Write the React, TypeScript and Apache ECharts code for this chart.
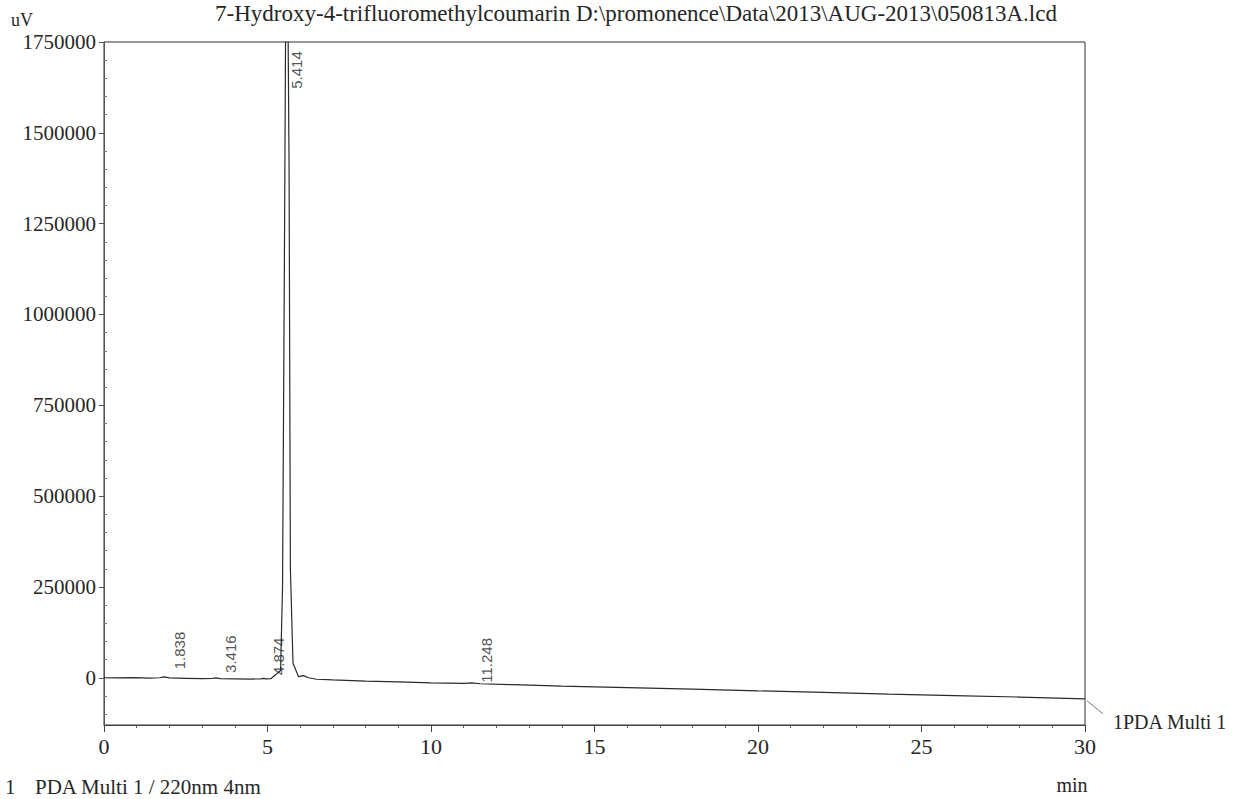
import React, { useEffect, useRef } from "react";
import * as echarts from "echarts";

// ---- Data ----
const titleText =
  "7-Hydroxy-4-trifluoromethylcoumarin D:\\promonence\\Data\\2013\\AUG-2013\\050813A.lcd";

// retention time (min) and detector signal (uV)
const traceTimes = [
  0, 0.4, 0.9, 1.4, 1.7, 1.84, 2.0, 2.5, 3.0, 3.3, 3.42, 3.55, 4.0, 4.5, 4.8, 4.87,
  4.95, 5.1, 5.4, 5.46, 5.52, 5.56, 5.62, 5.66, 5.7, 5.78, 5.95, 6.1, 6.25, 6.5,
  7, 8, 9, 10, 11, 11.25, 11.5, 12.5, 14, 16, 18, 20, 22, 24, 26, 28, 30,
];
const traceSignal = [
  0, -500, 500, -1000, 0, 2500, -500, -1500, -2500, -2000, -500, -2500, -3000, -3500,
  -3000, -1500, -3000, -2500, 20000, 250000, 1200000, 1900000, 1900000, 1400000,
  300000, 40000, 3000, 6000, 0, -4000, -6000, -9000, -11500, -14000, -15500,
  -14000, -16500, -19000, -23000, -27000, -31000, -36000, -40000, -45000, -49000,
  -53000, -58000,
];

// peak labels: retention time and the level where the label starts
const peakTimes = [1.838, 3.416, 4.874, 5.414, 11.248];
const peakLabelLevels = [22000, 12000, 6000, 1620000, -15000];

// axis ticks
const yMajorTicks = [0, 250000, 500000, 750000, 1000000, 1250000, 1500000, 1750000];
const yMinorTicks = [
  -100000, -50000, 50000, 100000, 150000, 200000, 300000, 350000, 400000, 450000,
  550000, 600000, 650000, 700000, 800000, 850000, 900000, 950000, 1050000, 1100000,
  1150000, 1200000, 1300000, 1350000, 1400000, 1450000, 1550000, 1600000, 1650000,
  1700000,
];

const seriesName = "1PDA Multi 1";
const footnoteIndex = "1";
const footnoteText = "PDA Multi 1 / 220nm 4nm";
const yUnit = "uV";
const xUnit = "min";

export default function App() {
  const ref = useRef<HTMLDivElement>(null);

  useEffect(() => {
    document.body.style.margin = "0";
    if (!ref.current) return;
    const chart = echarts.init(ref.current, undefined, { renderer: "svg" });
    const serif = "Liberation Serif";
    const ink = "#262626";

    const traceData = traceTimes.map((t, i) => [t, traceSignal[i]]);
    const labelData = peakTimes.map((t, i) => [t, peakLabelLevels[i]]);

    chart.setOption({
      animation: false,
      backgroundColor: "#ffffff",
      grid: {
        left: 104,
        right: 158,
        top: 42,
        bottom: 74,
        show: true,
        borderColor: "#333",
        borderWidth: 1,
        outerBoundsMode: "none",
      },
      xAxis: {
        type: "value",
        min: 0,
        max: 30,
        interval: 5,
        axisLine: { show: true, onZero: false, lineStyle: { color: "#444", width: 1 } },
        axisTick: { show: true, length: 7, lineStyle: { color: "#444" } },
        minorTick: { show: true, splitNumber: 5, length: 3, lineStyle: { color: "#555" } },
        axisLabel: { fontFamily: serif, fontSize: 22, color: ink, margin: 10 },
        splitLine: { show: false },
        minorSplitLine: { show: false },
      },
      yAxis: [
        {
          type: "value",
          position: "left",
          min: -130000,
          max: 1750000,
          axisLine: { show: true, onZero: false, lineStyle: { color: "#555", width: 1 } },
          axisTick: {
            show: true,
            customValues: yMajorTicks,
            length: 5,
            lineStyle: { color: "#555" },
          },
          axisLabel: {
            customValues: yMajorTicks,
            fontFamily: serif,
            fontSize: 21,
            color: ink,
            margin: 8,
            formatter: (v: number) => String(Math.round(v)),
          },
          splitLine: { show: false },
        },
        {
          type: "value",
          position: "left",
          min: -130000,
          max: 1750000,
          axisLine: { show: false, onZero: false },
          axisTick: {
            show: true,
            inside: true,
            customValues: yMinorTicks,
            length: 3,
            lineStyle: { color: "#777" },
          },
          axisLabel: { show: false },
          splitLine: { show: false },
        },
      ],
      series: [
        {
          name: seriesName,
          type: "line",
          data: traceData,
          symbol: "none",
          clip: true,
          lineStyle: { color: "#2a2a2a", width: 1.2 },
          z: 3,
        },
        {
          type: "scatter",
          data: labelData,
          symbolSize: 1,
          itemStyle: { color: "rgba(0,0,0,0)" },
          silent: true,
          z: 4,
          label: {
            show: true,
            position: "top",
            distance: 0,
            rotate: 90,
            align: "left",
            verticalAlign: "middle",
            offset: [0, 15],
            fontFamily: "Liberation Sans",
            fontSize: 15,
            color: ink,
            formatter: (p: any) => Number(p.value[0]).toFixed(3),
          },
        },
      ],
    });

    const endPt = chart.convertToPixel({ gridIndex: 0 }, [
      traceTimes[traceTimes.length - 1],
      traceSignal[traceSignal.length - 1],
    ]) as number[];

    chart.setOption({
      graphic: [
        {
          type: "text",
          x: 636,
          y: 13,
          style: {
            text: titleText,
            font: `23px "${serif}"`,
            fill: ink,
            textAlign: "center",
            textVerticalAlign: "middle",
          },
        },
        {
          type: "text",
          x: 11,
          y: 20,
          style: {
            text: yUnit,
            font: `18px "${serif}"`,
            fill: ink,
            textAlign: "left",
            textVerticalAlign: "middle",
          },
        },
        {
          type: "text",
          x: 1072,
          y: 785,
          style: {
            text: xUnit,
            font: `20px "${serif}"`,
            fill: ink,
            textAlign: "center",
            textVerticalAlign: "middle",
          },
        },
        {
          type: "line",
          shape: { x1: endPt[0] + 2, y1: endPt[1] + 2, x2: endPt[0] + 18, y2: endPt[1] + 15 },
          style: { stroke: "#777", lineWidth: 1 },
        },
        {
          type: "text",
          x: endPt[0] + 28,
          y: endPt[1] + 23,
          style: {
            text: seriesName,
            font: `20px "${serif}"`,
            fill: ink,
            textAlign: "left",
            textVerticalAlign: "middle",
          },
        },
        {
          type: "text",
          x: 5,
          y: 776,
          style: {
            text: footnoteIndex,
            font: `21px "${serif}"`,
            fill: ink,
            textAlign: "left",
            textVerticalAlign: "top",
          },
        },
        {
          type: "text",
          x: 35,
          y: 776,
          style: {
            text: footnoteText,
            font: `21px "${serif}"`,
            fill: ink,
            textAlign: "left",
            textVerticalAlign: "top",
          },
        },
      ],
    });

    return () => chart.dispose();
  }, []);

  return (
    <div
      ref={ref}
      style={{ position: "absolute", left: 0, top: 0, width: 1243, height: 799 }}
    />
  );
}
